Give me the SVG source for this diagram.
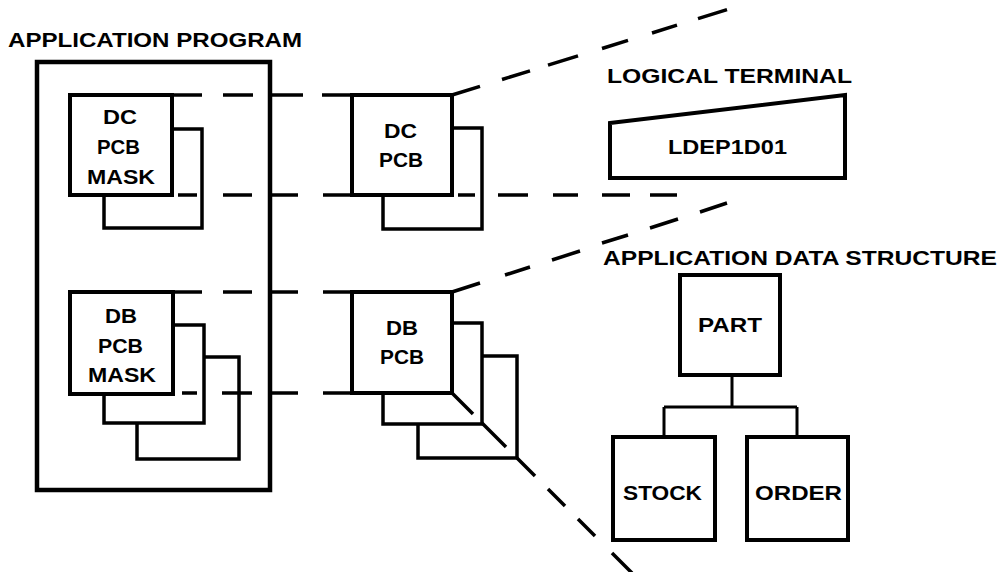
<svg xmlns="http://www.w3.org/2000/svg" width="1003" height="572" viewBox="0 0 1003 572">
<style>
.box{fill:#fff;stroke:#000;stroke-width:4}
.sh{fill:#fff;stroke:#000;stroke-width:3.5}
.outer{fill:none;stroke:#000;stroke-width:4.5}
.dash{fill:none;stroke:#000;stroke-width:3.5}
.ln{fill:none;stroke:#000;stroke-width:3}
text{font-family:"Liberation Sans",Arial,sans-serif;font-weight:bold;font-size:21px;fill:#000}
</style>
<rect width="1003" height="572" fill="#fff"/>
<g id="app-program">
<rect class="outer" x="37" y="62" width="233" height="428"/>
<text x="8" y="47" textLength="294" lengthAdjust="spacingAndGlyphs">APPLICATION PROGRAM</text>
</g>
<g id="dc-pcb-mask">
<rect class="sh" x="104" y="129" width="98" height="99"/>
<rect class="box" x="70" y="95" width="102" height="100"/>
<text x="103" y="124" textLength="34" lengthAdjust="spacingAndGlyphs">DC</text>
<text x="97" y="154" textLength="43" lengthAdjust="spacingAndGlyphs">PCB</text>
<text x="87" y="184" textLength="68" lengthAdjust="spacingAndGlyphs">MASK</text>
</g>
<g id="db-pcb-mask">
<rect class="sh" x="137" y="357" width="102" height="102"/>
<rect class="sh" x="104" y="325" width="100" height="98"/>
<rect class="box" x="70" y="292" width="103" height="102"/>
<text x="105" y="323" textLength="32" lengthAdjust="spacingAndGlyphs">DB</text>
<text x="98" y="353" textLength="45" lengthAdjust="spacingAndGlyphs">PCB</text>
<text x="88" y="382" textLength="68" lengthAdjust="spacingAndGlyphs">MASK</text>
</g>
<g id="dc-pcb">
<rect class="sh" x="383" y="128" width="99" height="101"/>
<rect class="box" x="352" y="95" width="100" height="100"/>
<text x="384" y="138" textLength="33" lengthAdjust="spacingAndGlyphs">DC</text>
<text x="379" y="167" textLength="44" lengthAdjust="spacingAndGlyphs">PCB</text>
</g>
<g id="db-pcb">
<rect class="sh" x="418" y="356" width="99" height="102"/>
<rect class="sh" x="383" y="323" width="99" height="101"/>
<rect class="box" x="352" y="292" width="100" height="101"/>
<text x="386" y="335" textLength="32" lengthAdjust="spacingAndGlyphs">DB</text>
<text x="380" y="364" textLength="44" lengthAdjust="spacingAndGlyphs">PCB</text>
</g>
<g id="logical-terminal">
<text x="607" y="83" textLength="245" lengthAdjust="spacingAndGlyphs">LOGICAL TERMINAL</text>
<polygon class="box" points="610,123 845,95 845,178 610,178"/>
<text x="668" y="154" textLength="119" lengthAdjust="spacingAndGlyphs">LDEP1D01</text>
</g>
<g id="data-structure">
<text x="603" y="265" textLength="394" lengthAdjust="spacingAndGlyphs">APPLICATION DATA STRUCTURE</text>
</g>
<g id="part">
<rect class="box" x="680" y="275" width="100" height="100"/>
<text x="698" y="332" textLength="64" lengthAdjust="spacingAndGlyphs">PART</text>
</g>
<g id="stock">
<rect class="box" x="613" y="437" width="102" height="103"/>
<text x="623" y="500" textLength="79" lengthAdjust="spacingAndGlyphs">STOCK</text>
</g>
<g id="order">
<rect class="box" x="747" y="437" width="101" height="103"/>
<text x="755" y="500" textLength="87" lengthAdjust="spacingAndGlyphs">ORDER</text>
</g>
<g id="connectors">
<path class="ln" d="M732,375 V407 M664,407 H797 M664,407 V437 M797,407 V437"/>
<path class="dash" d="M172,95 H202 M223,95 H253 M270,95 H303 M322,95 H352"/>
<path class="dash" d="M178,195 H197 M223,195 H252 M270,195 H298 M323,195 H352 M458,195 H475 M498,195 H528 M553,195 H578 M602,195 H630 M650,195 H677"/>
<path class="dash" d="M173,292 H202 M223,292 H252 M270,292 H298 M323,292 H352"/>
<path class="dash" d="M182,393 H197 M222,393 H252 M270,393 H298 M323,393 H352"/>
<path class="dash" d="M452,95 L480,86.3 M502,79.5 L530,70.8 M548,65.2 L578,55.9 M602,48.5 L628,40.4 M652,33 L677,25.2 M698,18.7 L727,9.7"/>
<path class="dash" d="M452,292 L480,283 M505,275 L530,267 M552,260 L580,251 M602,243 L628,235 M650,228 L678,219 M700,212 L727,203"/>
<path class="dash" d="M452,393 L473,414 M482,423 L506,447 M517,458 L535,476 M548,489 L565,506 M578,519 L595,536 M612,553 L632,573"/>
</g>
</svg>
